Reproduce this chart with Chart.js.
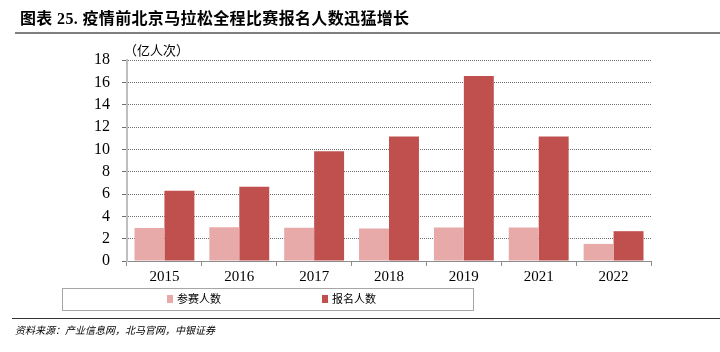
<!DOCTYPE html>
<html>
<head>
<meta charset="utf-8">
<script src="https://cdn.jsdelivr.net/npm/chart.js@4.4.0/dist/chart.umd.min.js"></script>
<style>
  html, body { margin: 0; padding: 0; background: #fff; }
  #wrap { position: relative; width: 720px; height: 352px; overflow: hidden; }
  #chart { position: absolute; left: 0; top: 0; }
  .title { position: absolute; left: 20px; top: 5px; font: bold 16px "Liberation Serif", "Noto Sans CJK SC"; color: #000; white-space: nowrap; letter-spacing: 0.35px; }
  .rule { position: absolute; height: 0; }
  .unit { position: absolute; left: 124px; top: 40px; font: 13px "Noto Sans CJK SC"; color: #000; }
  .source { position: absolute; left: 15px; top: 322px; font: italic 10px "Noto Sans CJK SC"; color: #000; }
</style>
</head>
<body>
<div id="wrap">
  <canvas id="chart" width="720" height="352"></canvas>
  <div class="title">图表 25. 疫情前北京马拉松全程比赛报名人数迅猛增长</div>
  <div class="rule" style="left:15px; top:32px; width:705px; border-top:2px solid #7f7f7f;"></div>
  <div class="unit">（亿人次）</div>
  <div class="rule" style="left:12px; top:318px; width:708px; border-top:1px solid #333;"></div>
  <div class="source">资料来源：产业信息网，北马官网，中银证券</div>
</div>
<script>
const years = ['2015', '2016', '2017', '2018', '2019', '2021', '2022'];
const participants = [2.95, 3.03, 2.97, 2.9, 3.0, 3.0, 1.53];
const registrants = [6.3, 6.65, 9.82, 11.14, 16.56, 11.14, 2.67];
const yTicks = [0, 2, 4, 6, 8, 10, 12, 14, 16, 18];

// Legend drawn inside a framed box below the plot
const boxLegend = {
  id: 'boxLegend',
  afterDraw(chart) {
    const ctx = chart.ctx;
    ctx.save();
    ctx.strokeStyle = '#a6a6a6';
    ctx.lineWidth = 1;
    ctx.strokeRect(62.5, 288.5, 411, 22);
    const xs = [167, 322];
    ctx.font = '11px "Noto Sans CJK SC"';
    ctx.textBaseline = 'middle';
    chart.data.datasets.forEach((ds, i) => {
      ctx.fillStyle = ds.backgroundColor;
      ctx.fillRect(xs[i], 295, 6, 8);
      ctx.fillStyle = '#000';
      ctx.fillText(ds.label, xs[i] + 10, 299);
    });
    ctx.restore();
  }
};

new Chart(document.getElementById('chart'), {
  type: 'bar',
  data: {
    labels: years,
    datasets: [
      { label: '参赛人数', data: participants, backgroundColor: '#e8a9a9' },
      { label: '报名人数', data: registrants, backgroundColor: '#c0504d' },
    ],
  },
  options: {
    responsive: false,
    animation: false,
    layout: { padding: { left: 77, right: 69, top: 60, bottom: 61 } },
    plugins: { legend: { display: false }, tooltip: { enabled: false } },
    datasets: { bar: { categoryPercentage: 0.8, barPercentage: 1.0 } },
    scales: {
      x: {
        afterFit: (s) => { s.height = 30; },
        grid: { offset: true, drawOnChartArea: false, tickLength: 5, color: '#8c8c8c' },
        border: { color: '#8c8c8c', width: 1 },
        ticks: { color: '#000', font: { family: '"Liberation Serif"', size: 15 }, padding: 2 },
      },
      y: {
        min: 0,
        max: 18,
        afterFit: (s) => { s.width = 50; },
        afterBuildTicks: (s) => { s.ticks = yTicks.map((v) => ({ value: v })); },
        grid: { color: '#6e6e6e', lineWidth: 1, tickLength: 5 },
        border: { color: '#bfbfbf', width: 2, dash: [1, 1] },
        ticks: { color: '#000', font: { family: '"Liberation Serif"', size: 16 }, padding: 12 },
      },
    },
  },
  plugins: [boxLegend],
});
</script>
</body>
</html>
